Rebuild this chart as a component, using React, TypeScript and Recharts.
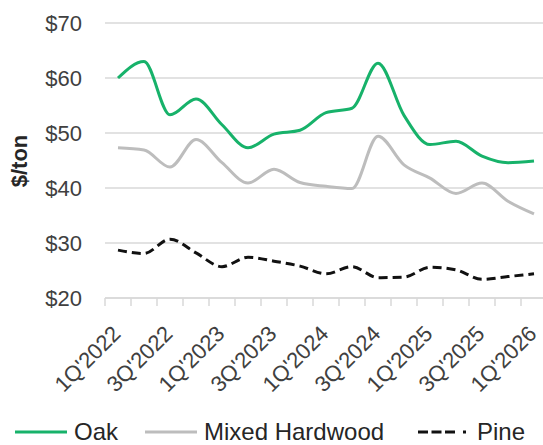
import React from "react";
import { LineChart, Line, XAxis, YAxis, CartesianGrid, Legend } from "recharts";

const quarters = [
  "1Q'2022", "2Q'2022", "3Q'2022", "4Q'2022",
  "1Q'2023", "2Q'2023", "3Q'2023", "4Q'2023",
  "1Q'2024", "2Q'2024", "3Q'2024", "4Q'2024",
  "1Q'2025", "2Q'2025", "3Q'2025", "4Q'2025",
  "1Q'2026",
];
const oak = [60, 63, 53.3, 56.2, 51.5, 47.3, 49.8, 50.5, 53.7, 54.5, 62.7, 53.2, 47.9, 48.5, 45.8, 44.6, 44.9];
const mixedHardwood = [47.3, 46.9, 43.8, 48.8, 44.6, 40.9, 43.4, 41, 40.3, 39.9, 49.4, 44.2, 41.8, 39, 40.9, 37.6, 35.3];
const pine = [28.7, 28.1, 30.7, 28.2, 25.7, 27.4, 26.7, 25.8, 24.4, 25.7, 23.7, 23.8, 25.6, 25.1, 23.4, 23.9, 24.4];
const yTicks = [20, 30, 40, 50, 60, 70];

const series = [
  { key: "oak", name: "Oak", color: "#17b26a", dash: undefined as string | undefined, legendDash: undefined as string | undefined },
  { key: "mixed", name: "Mixed Hardwood", color: "#bdbdbd", dash: undefined as string | undefined, legendDash: undefined as string | undefined },
  { key: "pine", name: "Pine", color: "#111111", dash: "9 5", legendDash: "10 3.5 10 3.5 10 8 3 20" },
];

const data = quarters.map((q, i) => ({
  q,
  oak: oak[i],
  mixed: mixedHardwood[i],
  pine: pine[i],
}));

const FONT = "'Liberation Sans', Arial, sans-serif";
const GRID = "#d9d9d9";

const QuarterTick = (props: any) => {
  const { x, y, index, payload } = props;
  const ax = x + 4;
  const ay = y + 37;
  return (
    <g>
      <line x1={x - 13} y1={y} x2={x - 13} y2={y + 8} stroke={GRID} strokeWidth={1.5} />
      {index % 2 === 0 && (
        <text
          x={ax}
          y={ay}
          textAnchor="end"
          transform={`rotate(-45 ${ax} ${ay})`}
          fontSize={22}
          fontFamily={FONT}
          fill="#404040"
        >
          {payload.value}
        </text>
      )}
    </g>
  );
};

const legendX = [15, 145, 418];
const renderLegend = () => (
  <svg width={543} height={30} style={{ display: "block" }}>
    {series.map((s, i) => (
      <g key={s.key}>
        <line
          x1={legendX[i]}
          y1={17}
          x2={legendX[i] + 52}
          y2={17}
          stroke={s.color}
          strokeWidth={3}
          strokeDasharray={s.legendDash}
        />
        <text x={legendX[i] + 59} y={25} fontSize={24} fontFamily={FONT} fill="#262626">
          {s.name}
        </text>
      </g>
    ))}
  </svg>
);

export default function App() {
  return (
    <div style={{ position: "absolute", left: 0, top: 0, width: 543, height: 445, background: "#fff" }}>
      <LineChart width={543} height={445} data={data} margin={{ top: 23, right: 0, left: 0, bottom: 0 }}>
        <CartesianGrid vertical={false} stroke={GRID} strokeWidth={1.5} />
        <XAxis
          dataKey="q"
          interval={0}
          tickLine={false}
          tickSize={0}
          tickMargin={0}
          axisLine={{ stroke: GRID, strokeWidth: 1.5 }}
          padding={{ left: 13, right: 9 }}
          height={117}
          tick={<QuarterTick />}
        />
        <YAxis
          domain={[20, 70]}
          ticks={yTicks}
          width={105}
          axisLine={false}
          tickLine={false}
          tickMargin={17}
          tickFormatter={(v: number) => `$${v}`}
          tick={{ fontSize: 22, fontFamily: FONT, fill: "#404040" }}
          label={{
            content: () => (
              <text
                x={19}
                y={161}
                transform="rotate(-90 19 161)"
                textAnchor="middle"
                dominantBaseline="central"
                fontSize={22}
                fontWeight="bold"
                fontFamily={FONT}
                fill="#262626"
              >
                $/ton
              </text>
            ),
          }}
        />
        <Legend verticalAlign="bottom" height={30} wrapperStyle={{ left: 0, bottom: 0 }} content={renderLegend} />
        {series.map((s) => (
          <Line
            key={s.key}
            dataKey={s.key}
            name={s.name}
            type="monotone"
            stroke={s.color}
            strokeWidth={3}
            strokeDasharray={s.dash}
            dot={false}
            activeDot={false}
            isAnimationActive={false}
          />
        ))}
      </LineChart>
    </div>
  );
}
